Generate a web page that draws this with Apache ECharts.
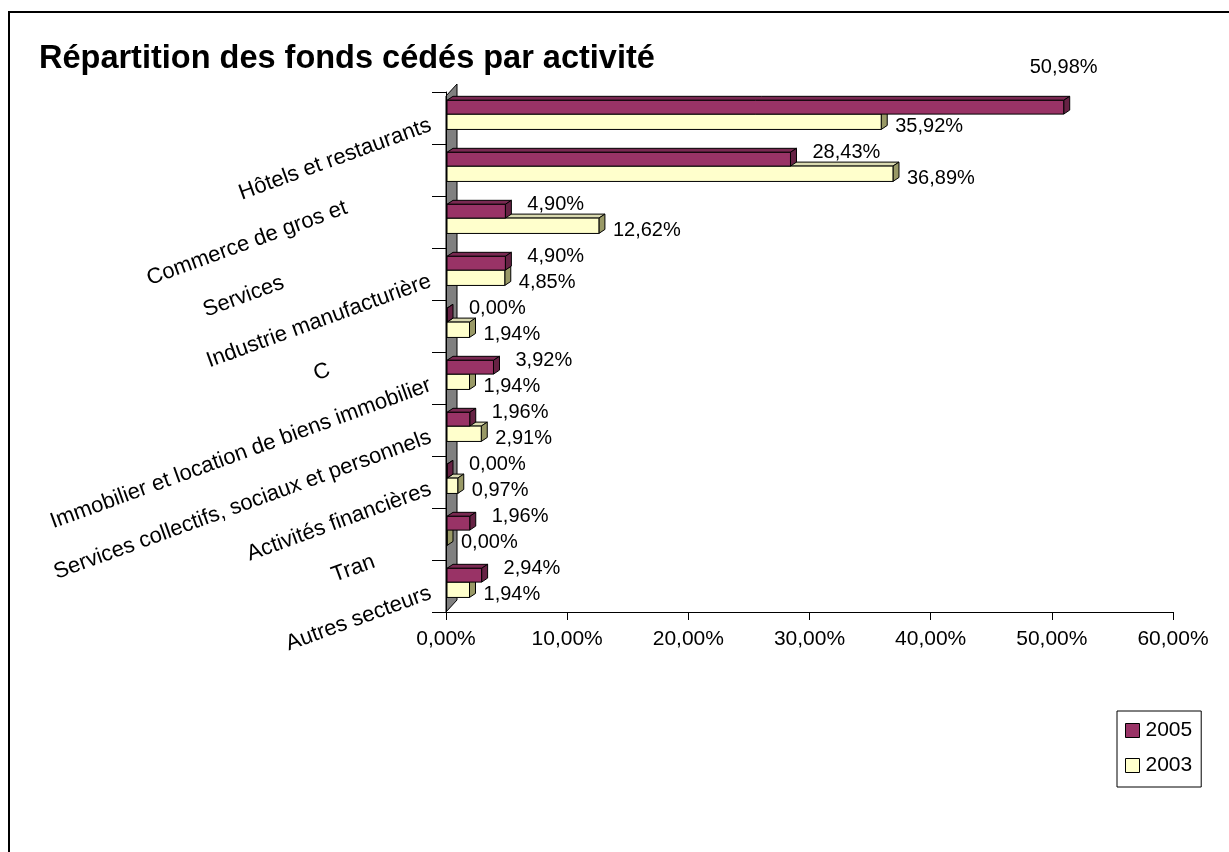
<!DOCTYPE html>
<html>
<head>
<meta charset="utf-8">
<script src="https://cdn.jsdelivr.net/npm/echarts@6/dist/echarts.min.js"></script>
<style>
html,body{margin:0;padding:0;background:#fff;}
#chart{width:1229px;height:852px;}
</style>
</head>
<body>
<div id="chart"></div>
<script>
// ---- data ----
const categories = [
  'Hôtels et restaurants',
  'Commerce de gros et de détail',
  'Services aux entreprises',
  'Industrie manufacturière',
  'Construction',
  'Immobilier et location de biens immobilier',
  'Services collectifs, sociaux et personnels',
  'Activités financières',
  'Transports',
  'Autres secteurs'
];
// part of each category label left visible (the rest is hidden by overlap in the original)
const visibleLabels = [
  'Hôtels et restaurants',
  'Commerce de gros et',
  'Services',
  'Industrie manufacturière',
  'C',
  'Immobilier et location de biens immobilier',
  'Services collectifs, sociaux et personnels',
  'Activités financières',
  'Tran',
  'Autres secteurs'
];
const seriesNames = ['2005', '2003'];
const values2005 = [50.98, 28.43, 4.90, 4.90, 0.00, 3.92, 1.96, 0.00, 1.96, 2.94];
const values2003 = [35.92, 36.89, 12.62, 4.85, 1.94, 1.94, 2.91, 0.97, 0.00, 1.94];
const xTickValues = [0, 10, 20, 30, 40, 50, 60];

// ---- helpers ----
const FONT = '"Liberation Sans", Arial, sans-serif';
function pct(v) { return v.toFixed(2).replace('.', ',') + '%'; }

const GRID = { left: 446, right: 56, top: 92, bottom: 240 };
const DEPTH = [6, -4];

function makeRender(opts) {
  return function (params, api) {
    const v = api.value(0);
    const ci = api.value(1);
    const p0 = api.coord([0, ci]);
    const p1 = api.coord([v, ci]);
    const band = api.size([0, 1])[1];
    const c = p0[1];
    const y0 = c + opts.frac[0] * band;
    const y1 = c + opts.frac[1] * band;
    const x0 = p0[0] + 1;
    const x1 = Math.max(p1[0], x0);
    const dx = DEPTH[0], dy = DEPTH[1];
    const st = { stroke: '#000', lineWidth: 1 };
    const shift = (opts.labelShift && opts.labelShift[params.dataIndex]) || [0, 0];
    const lx = x1 + opts.labelDx + shift[0];
    const ly = c + opts.labelDy * band + shift[1];
    return {
      type: 'group',
      children: [
        { type: 'polygon', shape: { points: [[x0, y0], [x0 + dx, y0 + dy], [x1 + dx, y0 + dy], [x1, y0]] },
          style: Object.assign({ fill: opts.top }, st) },
        { type: 'polygon', shape: { points: [[x1, y0], [x1 + dx, y0 + dy], [x1 + dx, y1 + dy], [x1, y1]] },
          style: Object.assign({ fill: opts.side }, st) },
        { type: 'rect', shape: { x: x0, y: y0, width: x1 - x0, height: y1 - y0 },
          style: Object.assign({ fill: opts.front }, st) },
        { type: 'text', x: lx, y: ly,
          style: { text: pct(v), fill: '#000', font: '20px ' + FONT, align: 'left', verticalAlign: 'middle' } }
      ]
    };
  };
}

const data2005 = values2005.map((v, i) => [v, i]);
const data2003 = values2003.map((v, i) => [v, i]);

const chart = echarts.init(document.getElementById('chart'), null, { renderer: 'canvas' });

const option = {
  backgroundColor: '#ffffff',
  animation: false,
  textStyle: { fontFamily: FONT },
  title: {
    text: 'Répartition des fonds cédés par activité',
    left: 34, top: 38,
    textStyle: { fontFamily: FONT, fontSize: 32.5, fontWeight: 'bold', color: '#000' }
  },
  legend: {
    data: seriesNames,
    orient: 'vertical',
    left: 1117, top: 711,
    padding: [9, 9, 11, 8],
    itemGap: 14,
    itemWidth: 14, itemHeight: 14,
    icon: 'rect',
    borderColor: '#000', borderWidth: 1,
    textStyle: { fontFamily: FONT, fontSize: 21, color: '#000', padding: [0, 0, 0, 1] },
    itemStyle: { borderColor: '#000', borderWidth: 1 }
  },
  grid: GRID,
  xAxis: {
    type: 'value', min: 0, max: 60, interval: 10,
    axisLine: { show: true, lineStyle: { color: '#000', width: 1 } },
    axisTick: { show: true, length: 8, lineStyle: { color: '#000' } },
    splitLine: { show: false },
    axisLabel: {
      margin: 17, fontFamily: FONT, fontSize: 21, color: '#000',
      formatter: function (v) { return xTickValues.indexOf(v) >= 0 ? pct(v) : ''; }
    }
  },
  yAxis: {
    type: 'category', data: categories, inverse: true,
    axisLine: { show: true, lineStyle: { color: '#000', width: 1 } },
    axisTick: { show: true, length: 14, lineStyle: { color: '#000' } },
    axisLabel: {
      rotate: 20, margin: 18, interval: 0,
      padding: [14, 0, 0, 0],
      formatter: function (value, index) {
        const shown = visibleLabels[index];
        const rest = value.slice(shown.length);
        return rest ? '{v|' + shown + '}{h|' + rest + '}' : '{v|' + shown + '}';
      },
      rich: {
        v: { fontFamily: FONT, fontSize: 22, color: '#000' },
        h: { fontFamily: FONT, fontSize: 22, color: 'rgba(0,0,0,0)' }
      }
    }
  },
  graphic: [
    { type: 'rect', z: 100, shape: { x: 9, y: 12, width: 1400, height: 1000 },
      style: { fill: 'none', stroke: '#000', lineWidth: 2 } },
    { type: 'polygon', z: -1,
      shape: { points: [
        [GRID.left, GRID.top + 4], [GRID.left + 11, GRID.top - 8],
        [GRID.left + 11, 852 - GRID.bottom - 12], [GRID.left, 852 - GRID.bottom]
      ] },
      style: { fill: '#808080', stroke: '#000', lineWidth: 1 } }
  ],
  series: [
    {
      name: '2003', type: 'custom', z: 3,
      itemStyle: { color: '#FFFFCC', borderColor: '#000', borderWidth: 1 },
      encode: { x: 0, y: 1 },
      data: data2003,
      renderItem: makeRender({
        frac: [-0.075, 0.22], front: '#FFFFCC', top: '#DADAB0', side: '#999966',
        labelDx: 14, labelDy: 0.16
      })
    },
    {
      name: '2005', type: 'custom', z: 4,
      itemStyle: { color: '#993366', borderColor: '#000', borderWidth: 1 },
      encode: { x: 0, y: 1 },
      data: data2005,
      renderItem: makeRender({
        frac: [-0.34, -0.075], front: '#993366', top: '#7A2952', side: '#662244',
        labelDx: 22, labelDy: -0.33,
        labelShift: { 0: [-56, -33] }
      })
    }
  ]
};
chart.setOption(option);
</script>
</body>
</html>
